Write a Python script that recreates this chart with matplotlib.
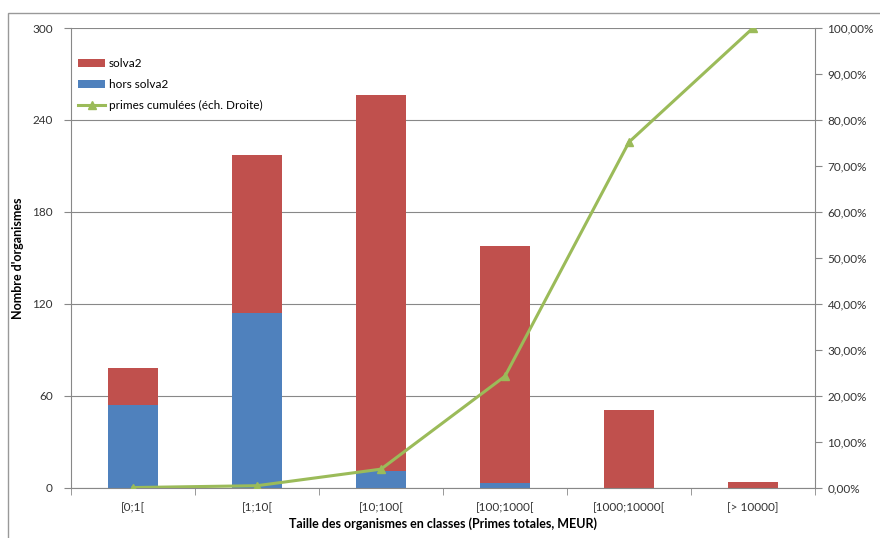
#!/usr/bin/env python3
"""Stacked bars (solva2 / hors solva2) by size class with cumulative premiums line."""

import matplotlib
matplotlib.use("Agg")
import matplotlib.pyplot as plt
from matplotlib.patches import Rectangle
from matplotlib.ticker import FuncFormatter, MultipleLocator
import numpy as np

CLASSES = ["[0;1[", "[1;10[", "[10;100[", "[100;1000[", "[1000;10000[", "[> 10000]"]
HORS_SOLVA2 = [54, 114, 11, 3, 0, 0]
SOLVA2 = [24, 103, 245, 155, 51, 4]
PRIMES_CUM = [0.001, 0.005, 0.041, 0.243, 0.752, 1.0]

COLOR_SOLVA = "#C0504D"
COLOR_HORS = "#4F81BD"
COLOR_CUM = "#9BBB59"
GRID = "#888888"

plt.rcParams["font.family"] = ["Lato", "DejaVu Sans"]

fig = plt.figure(figsize=(8.8, 5.38), dpi=100)
ax = fig.add_axes([71 / 880, 1 - 488 / 538, (815 - 71) / 880, (488 - 28) / 538])

x = np.arange(len(CLASSES))
w = 0.4
ax.bar(x, HORS_SOLVA2, width=w, color=COLOR_HORS, label="hors solva2", zorder=2)
ax.bar(x, SOLVA2, width=w, bottom=HORS_SOLVA2, color=COLOR_SOLVA, label="solva2", zorder=2)

ax.set_xlim(-0.5, len(CLASSES) - 0.5)
ax.set_ylim(0, 300)
ax.yaxis.set_major_locator(MultipleLocator(60))
ax.grid(axis="y", color=GRID, linewidth=0.8, zorder=0)
ax.set_axisbelow(True)

ax.set_xticks(x)
ax.set_xticklabels(CLASSES, fontsize=8.5, color="#333333")
ax.set_xticks(np.arange(len(CLASSES) + 1) - 0.5, minor=True)
ax.tick_params(axis="x", which="major", length=0, pad=10)
ax.tick_params(axis="x", which="minor", length=5, color=GRID, direction="out")
ax.tick_params(axis="y", labelsize=8.5, length=5, color=GRID, labelcolor="#333333", pad=8)

for side in ("top", "right"):
    ax.spines[side].set_visible(False)
for side in ("left", "bottom"):
    ax.spines[side].set_color(GRID)

ax.set_ylabel("Nombre d'organismes", fontsize=9, fontweight="bold")
ax.yaxis.set_label_coords((24 - 71) / 744, 0.5)
ax.set_xlabel("Taille des organismes en classes (Primes totales, MEUR)",
              fontsize=9, fontweight="bold", labelpad=3)

ax2 = ax.twinx()
ax2.plot(x, PRIMES_CUM, color=COLOR_CUM, linewidth=2.2, marker="^", markersize=6,
         label="primes cumulées (éch. Droite)", zorder=3)
ax2.set_ylim(0, 1.0)
ax2.yaxis.set_major_locator(MultipleLocator(0.1))
ax2.yaxis.set_major_formatter(FuncFormatter(lambda v, _: f"{v * 100:.2f}%".replace(".", ",")))
ax2.tick_params(axis="y", labelsize=8.5, length=5, color=GRID, labelcolor="#333333", pad=4)
for side in ("top", "left", "bottom"):
    ax2.spines[side].set_visible(False)
ax2.spines["right"].set_color(GRID)

h1, l1 = ax.get_legend_handles_labels()
h2, l2 = ax2.get_legend_handles_labels()
ax.legend([h1[1], h1[0], h2[0]], [l1[1], l1[0], l2[0]],
          loc="upper left", bbox_to_anchor=(0.0, 0.95), frameon=False,
          fontsize=8.5, handlelength=2.3, handleheight=0.6, labelspacing=0.85,
          handletextpad=0.3, borderaxespad=0.2)

# outer chart frame
fig.patches.append(Rectangle((8 / 880, -0.1), 1.2, 1 - 13 / 538 + 0.1,
                             transform=fig.transFigure, fill=False,
                             edgecolor="#999999", linewidth=1.0, clip_on=False))

fig.savefig("out.png", dpi=100)
